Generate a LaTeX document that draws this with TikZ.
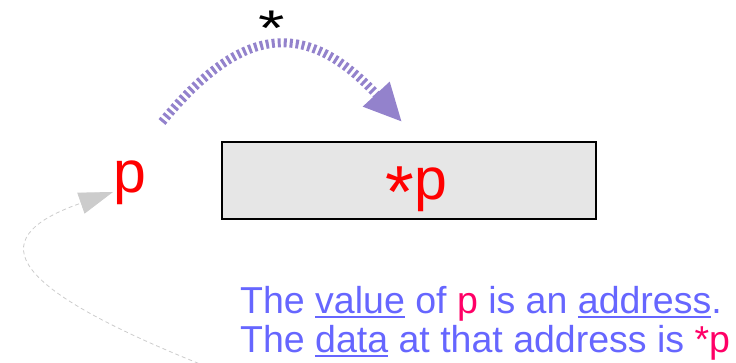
\documentclass[tikz,border=0pt]{standalone}
\usepackage{fontspec}
\setmainfont{Liberation Sans}
\usetikzlibrary{arrows.meta}
\definecolor{derefpurple}{RGB}{147,130,204}
\definecolor{ptrred}{RGB}{255,0,0}
\definecolor{notered}{RGB}{255,0,102}
\definecolor{noteblue}{RGB}{102,102,255}
\definecolor{boxgray}{RGB}{230,230,230}
\definecolor{linkgray}{RGB}{204,204,204}
\newcommand\ulword[1]{\setbox0\hbox{#1}\rlap{\rule[-4.5pt]{\wd0}{1.6pt}}\box0\relax}
\newcommand\bigast{\raisebox{-18pt}{\scalebox{1.25}{*}}}
\tikzset{
  bigtext/.style={inner sep=0pt,anchor=base west,font=\fontsize{59}{62}\selectfont},
  membox/.style={draw=black,line width=1.2pt,fill=boxgray,minimum width=374pt,minimum height=77pt,inner sep=0pt},
  notetext/.style={inner sep=0pt,anchor=base west,text=noteblue,font=\fontsize{37.5}{39}\selectfont},
}

\begin{document}
\begin{tikzpicture}[x=1pt,y=-1pt]
\useasboundingbox (0,0) rectangle (736,363);
\node[membox] (mem) at (409,180.5) {};
\node[bigtext,text=ptrred] (deref) at (385.5,200) {\bigast p};
\node[bigtext,text=ptrred] (p) at (113.6,193) {p};
\node[bigtext] (star) at (258,46) {\scalebox{1.15}[0.85]{*}};
\node[notetext] (line1) at (240,313) {The \ulword{value} of \textcolor{notered}{p} is an \ulword{address}.};
\node[notetext] (line2) at (240,352) {The \ulword{data} at that address is \textcolor{notered}{*p}};
\coordinate (arcfrom) at (162,122);
\coordinate (arcto) at (402,122);
\coordinate (linkfrom) at (205,366);
\coordinate (linkto) at (113,192);
\draw[derefpurple,line width=9pt,dash pattern=on 3pt off 3pt,-{Triangle[length=38pt,width=34pt]}]
  (arcfrom) .. controls (238,30) and (302,14) .. (arcto);
\draw[linkgray,line width=0.8pt,dash pattern=on 4pt off 3pt,-{Triangle[length=34pt,width=22pt]}]
  (linkfrom) .. controls (15,290) and (-25,240) .. (linkto);
\end{tikzpicture}
\end{document}
